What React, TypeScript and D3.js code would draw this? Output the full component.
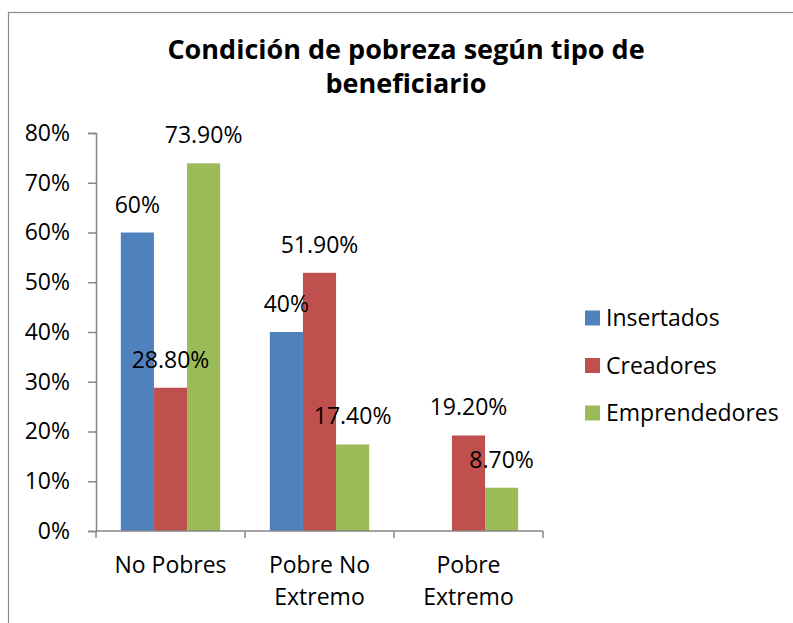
import { useEffect, useRef } from 'react'
import * as d3 from 'd3'

const categories = [['No Pobres'], ['Pobre No', 'Extremo'], ['Pobre', 'Extremo']]
const seriesNames = ['Insertados', 'Creadores', 'Emprendedores']
const insertados = [60, 40, null]
const creadores = [28.8, 51.9, 19.2]
const emprendedores = [73.9, 17.4, 8.7]
const valueLabels = [
  ['60%', '40%', null],
  ['28.80%', '51.90%', '19.20%'],
  ['73.90%', '17.40%', '8.70%']
]
const yTicks = [0, 10, 20, 30, 40, 50, 60, 70, 80]
const colors = ['#4F81BD', '#C0504D', '#9BBB59']

const FONT = '"Open Sans", Lato, sans-serif'
const FS = '23px'

export default function App() {
  const svgRef = useRef<SVGSVGElement>(null)

  useEffect(() => {
    const svg = d3.select(svgRef.current)
    svg.selectAll('*').remove()

    const series = [insertados, creadores, emprendedores]
    const catIdx = categories.map((_, i) => i)

    // chart border
    svg.append('rect')
      .attr('x', 8.5).attr('y', 12.5)
      .attr('width', 800).attr('height', 700)
      .attr('fill', 'white')
      .attr('stroke', '#888').attr('stroke-width', 1.2)

    // title
    const title = svg.append('text')
      .attr('text-anchor', 'middle')
      .style('font-family', FONT)
      .style('font-weight', 'bold')
      .style('font-size', '27px')
      .attr('fill', 'black')
    title.append('tspan').attr('x', 406).attr('y', 59).text('Condición de pobreza según tipo de')
    title.append('tspan').attr('x', 406).attr('y', 93).text('beneficiario')

    const x0 = d3.scaleBand<number>().domain(catIdx).range([96, 543]).padding(0)
    const x1 = d3.scaleBand<number>().domain([0, 1, 2]).range([0, x0.bandwidth()])
      .paddingInner(0).paddingOuter(0.75)
    const y = d3.scaleLinear().domain([0, 80]).range([531, 133])

    // y axis
    const yAxis = d3.axisLeft(y)
      .tickValues(yTicks)
      .tickSize(8)
      .tickPadding(18)
      .tickFormat(d => `${d}%`)
    const yg = svg.append('g').attr('transform', 'translate(96,0)').call(yAxis)
    yg.select('.domain').attr('stroke', '#868686').attr('stroke-width', 1.5)
    yg.selectAll('.tick line').attr('stroke', '#868686').attr('stroke-width', 1.5)
    yg.selectAll('.tick text')
      .style('font-family', FONT).style('font-size', FS).attr('fill', 'black')

    // bars
    series.forEach((vals, s) => {
      svg.append('g')
        .selectAll('rect')
        .data(catIdx.filter(i => vals[i] != null))
        .join('rect')
        .attr('x', i => x0(i)! + x1(s)!)
        .attr('y', i => y(vals[i] as number))
        .attr('width', x1.bandwidth())
        .attr('height', i => y(0) - y(vals[i] as number))
        .attr('fill', colors[s])
    })

    // value labels
    series.forEach((vals, s) => {
      svg.append('g')
        .selectAll('text')
        .data(catIdx.filter(i => vals[i] != null))
        .join('text')
        .attr('x', i => x0(i)! + x1(s)! + x1.bandwidth() / 2)
        .attr('y', i => y(vals[i] as number) - 20)
        .attr('text-anchor', 'middle')
        .style('font-family', FONT).style('font-size', FS)
        .attr('fill', 'black')
        .text(i => valueLabels[s][i] as string)
    })

    // x axis
    const xg = svg.append('g')
    xg.append('line')
      .attr('x1', 96).attr('x2', 543).attr('y1', 531).attr('y2', 531)
      .attr('stroke', '#868686').attr('stroke-width', 1.5)
    xg.selectAll('.xtick')
      .data([...catIdx, catIdx.length])
      .join('line')
      .attr('x1', i => 96 + i * x0.step())
      .attr('x2', i => 96 + i * x0.step())
      .attr('y1', 531).attr('y2', 538)
      .attr('stroke', '#868686').attr('stroke-width', 1.5)
    const xl = xg.selectAll('.xlabel')
      .data(catIdx)
      .join('text')
      .attr('text-anchor', 'middle')
      .style('font-family', FONT).style('font-size', FS)
      .attr('fill', 'black')
    xl.each(function (i) {
      const t = d3.select(this)
      categories[i].forEach((line, k) => {
        t.append('tspan')
          .attr('x', x0(i)! + x0.bandwidth() / 2)
          .attr('y', 573 + k * 32)
          .text(line)
      })
    })

    // legend
    const lg = svg.append('g')
    seriesNames.forEach((name, s) => {
      const cy = 318 + s * 47.5
      lg.append('rect')
        .attr('x', 585).attr('y', cy - 7.5)
        .attr('width', 15).attr('height', 15)
        .attr('fill', colors[s])
      lg.append('text')
        .attr('x', 606).attr('y', cy + 8)
        .style('font-family', FONT).style('font-size', FS)
        .attr('fill', 'black')
        .text(name)
    })
  }, [])

  return (
    <svg
      ref={svgRef}
      width={793}
      height={623}
      style={{ position: 'absolute', left: 0, top: 0, display: 'block' }}
    />
  )
}
